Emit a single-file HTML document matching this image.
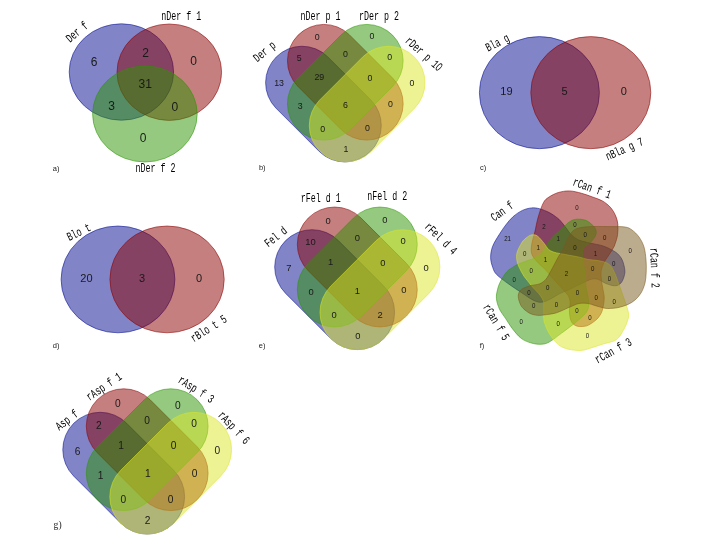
<!DOCTYPE html>
<html><head><meta charset="utf-8"><title>Venn diagrams</title>
<style>html,body{margin:0;padding:0;background:#fff}svg{display:block}</style></head>
<body>
<svg width="701" height="542" viewBox="0 0 701 542">
<rect width="701" height="542" fill="#fff"/>
<ellipse cx="121.4" cy="72" rx="52.2" ry="48.2" fill="#040C90" fill-opacity="0.5" stroke="#040C90" stroke-opacity="0.6" stroke-width="0.9"/>
<ellipse cx="169.3" cy="72.2" rx="52.3" ry="48.2" fill="#8B0000" fill-opacity="0.5" stroke="#8B0000" stroke-opacity="0.6" stroke-width="0.9"/>
<ellipse cx="144.9" cy="114" rx="52.3" ry="48" fill="#2A9400" fill-opacity="0.5" stroke="#2A9400" stroke-opacity="0.6" stroke-width="0.9"/>
<path d="M275.83,108.02 L319.53,151.72 A36.45,36.45 0 0 0 371.07,100.18 L327.37,56.48 A36.45,36.45 0 0 0 275.83,108.02 Z" fill="#040C90" fill-opacity="0.5" stroke="#040C90" stroke-opacity="0.6" stroke-width="0.9"/>
<path d="M297.68,86.17 L341.38,129.87 A36.45,36.45 0 0 0 392.92,78.33 L349.22,34.63 A36.45,36.45 0 0 0 297.68,86.17 Z" fill="#8B0000" fill-opacity="0.5" stroke="#8B0000" stroke-opacity="0.6" stroke-width="0.9"/>
<path d="M341.38,34.63 L297.68,78.33 A36.45,36.45 0 0 0 349.22,129.87 L392.92,86.17 A36.45,36.45 0 0 0 341.38,34.63 Z" fill="#2A9400" fill-opacity="0.5" stroke="#2A9400" stroke-opacity="0.6" stroke-width="0.9"/>
<path d="M363.23,56.48 L319.53,100.18 A36.45,36.45 0 0 0 371.07,151.72 L414.77,108.02 A36.45,36.45 0 0 0 363.23,56.48 Z" fill="#DCE628" fill-opacity="0.5" stroke="#DCE628" stroke-opacity="0.6" stroke-width="0.9"/>
<ellipse cx="539.4" cy="92.65" rx="60" ry="56.05" fill="#040C90" fill-opacity="0.5" stroke="#040C90" stroke-opacity="0.6" stroke-width="0.9"/>
<ellipse cx="590.8" cy="92.65" rx="60" ry="56.05" fill="#8B0000" fill-opacity="0.5" stroke="#8B0000" stroke-opacity="0.6" stroke-width="0.9"/>
<ellipse cx="118" cy="279.4" rx="56.9" ry="53.4" fill="#040C90" fill-opacity="0.5" stroke="#040C90" stroke-opacity="0.6" stroke-width="0.9"/>
<ellipse cx="167.05" cy="279.4" rx="57.15" ry="53.4" fill="#8B0000" fill-opacity="0.5" stroke="#8B0000" stroke-opacity="0.6" stroke-width="0.9"/>
<path d="M285.62,293.38 L330.92,338.68 A37.3,37.3 0 0 0 383.68,285.92 L338.38,240.62 A37.3,37.3 0 0 0 285.62,293.38 Z" fill="#040C90" fill-opacity="0.5" stroke="#040C90" stroke-opacity="0.6" stroke-width="0.9"/>
<path d="M308.27,270.73 L353.57,316.03 A37.3,37.3 0 0 0 406.33,263.27 L361.03,217.97 A37.3,37.3 0 0 0 308.27,270.73 Z" fill="#8B0000" fill-opacity="0.5" stroke="#8B0000" stroke-opacity="0.6" stroke-width="0.9"/>
<path d="M353.57,217.97 L308.27,263.27 A37.3,37.3 0 0 0 361.03,316.03 L406.33,270.73 A37.3,37.3 0 0 0 353.57,217.97 Z" fill="#2A9400" fill-opacity="0.5" stroke="#2A9400" stroke-opacity="0.6" stroke-width="0.9"/>
<path d="M376.22,240.62 L330.92,285.92 A37.3,37.3 0 0 0 383.68,338.68 L428.98,293.38 A37.3,37.3 0 0 0 376.22,240.62 Z" fill="#DCE628" fill-opacity="0.5" stroke="#DCE628" stroke-opacity="0.6" stroke-width="0.9"/>
<path d="M543.09,301.94 C540.76,302.45 539.28,302.39 537.05,301.75 C534.82,301.12 532.34,299.68 529.72,298.13 C527.10,296.59 524.84,294.87 521.33,292.51 C517.82,290.14 512.76,286.93 508.65,283.95 C504.55,280.96 499.34,277.32 496.70,274.59 C494.05,271.87 493.79,270.40 492.79,267.58 C491.78,264.77 490.68,261.19 490.64,257.68 C490.60,254.17 491.12,250.36 492.55,246.51 C493.97,242.66 496.97,238.21 499.20,234.59 C501.43,230.96 503.60,227.75 505.93,224.75 C508.27,221.74 510.45,218.95 513.20,216.56 C515.95,214.16 519.39,211.83 522.43,210.39 C525.48,208.96 528.65,208.21 531.50,207.93 C534.35,207.66 536.60,207.96 539.56,208.74 C542.52,209.51 546.36,211.10 549.25,212.58 C552.14,214.07 555.00,216.21 556.91,217.65 C558.83,219.08 559.13,219.34 560.74,221.18 C562.35,223.01 564.88,226.44 566.59,228.64 C568.31,230.85 569.08,232.56 571.03,234.43 C572.98,236.30 575.56,238.53 578.31,239.87 C581.07,241.21 584.54,241.71 587.56,242.47 C590.57,243.22 593.98,243.87 596.41,244.40 C598.85,244.93 600.30,245.11 602.17,245.67 C604.03,246.23 605.96,247.04 607.60,247.77 C609.24,248.51 610.60,249.31 612.01,250.08 C613.41,250.85 614.84,251.56 616.02,252.41 C617.19,253.26 618.19,254.26 619.05,255.20 C619.92,256.15 620.61,257.07 621.23,258.09 C621.85,259.12 622.34,260.21 622.78,261.33 C623.21,262.46 623.52,263.61 623.83,264.82 C624.14,266.02 624.46,267.27 624.64,268.57 C624.82,269.87 625.01,271.24 624.90,272.61 C624.78,273.98 624.33,275.53 623.96,276.81 C623.58,278.10 623.20,279.23 622.66,280.30 C622.12,281.37 621.58,282.38 620.71,283.23 C619.84,284.08 618.48,284.98 617.43,285.39 C616.37,285.81 615.45,285.77 614.38,285.73 C613.30,285.69 612.51,285.60 610.97,285.17 C609.43,284.75 606.72,283.85 605.15,283.19 C603.58,282.52 602.82,281.83 601.55,281.17 C600.27,280.51 598.82,279.61 597.51,279.24 C596.20,278.87 595.08,278.85 593.70,278.96 C592.32,279.08 591.77,278.92 589.23,279.94 C586.69,280.96 581.97,283.42 578.48,285.11 C574.98,286.80 571.37,288.70 568.28,290.10 C565.18,291.50 562.80,292.07 559.93,293.51 C557.06,294.95 553.85,297.33 551.05,298.74 C548.24,300.14 545.43,301.44 543.09,301.94 Z" fill="#040C90" fill-opacity="0.5" stroke="#040C90" stroke-opacity="0.6" stroke-width="0.9"/>
<path d="M532.83,256.18 C531.64,254.05 531.24,252.58 531.14,250.21 C531.04,247.83 531.61,244.96 532.22,241.92 C532.84,238.88 533.82,236.14 534.83,231.98 C535.83,227.83 536.79,221.90 538.23,217.01 C539.67,212.12 541.65,205.97 543.45,202.64 C545.24,199.31 546.56,198.70 549.03,197.03 C551.50,195.35 554.86,193.58 558.27,192.56 C561.69,191.54 565.61,190.80 569.49,190.92 C573.38,191.04 577.74,192.27 581.60,193.30 C585.46,194.32 589.17,195.78 592.66,197.06 C596.15,198.35 599.53,199.25 602.53,201.01 C605.52,202.77 608.44,205.13 610.63,207.61 C612.82,210.08 614.45,213.10 615.65,215.87 C616.85,218.64 617.51,221.06 617.83,224.24 C618.15,227.41 618.01,231.68 617.56,234.92 C617.12,238.17 615.91,241.45 615.15,243.71 C614.39,245.97 614.22,246.35 613.01,248.48 C611.81,250.62 609.42,254.14 607.90,256.50 C606.39,258.86 605.05,260.14 603.92,262.63 C602.79,265.12 601.52,268.32 601.14,271.43 C600.76,274.53 601.29,278.09 601.62,281.27 C601.96,284.45 602.74,287.98 603.16,290.50 C603.58,293.01 604.03,294.43 604.16,296.36 C604.29,298.29 604.12,300.30 603.94,302.06 C603.76,303.81 603.41,305.34 603.08,306.89 C602.75,308.44 602.45,310.00 601.96,311.36 C601.47,312.72 600.79,313.95 600.14,315.04 C599.49,316.14 598.81,317.05 598.06,317.94 C597.30,318.82 596.45,319.61 595.60,320.34 C594.74,321.08 593.85,321.71 592.92,322.36 C591.99,323.02 591.06,323.70 590.03,324.28 C589.00,324.86 587.93,325.49 586.73,325.85 C585.52,326.21 584.04,326.34 582.80,326.45 C581.55,326.56 580.41,326.63 579.26,326.51 C578.10,326.39 576.98,326.25 575.86,325.72 C574.74,325.20 573.37,324.22 572.55,323.36 C571.73,322.51 571.37,321.61 570.94,320.57 C570.52,319.53 570.26,318.73 570.00,317.10 C569.74,315.48 569.41,312.55 569.38,310.81 C569.34,309.08 569.65,308.12 569.79,306.68 C569.92,305.24 570.24,303.54 570.17,302.16 C570.09,300.78 569.82,299.70 569.34,298.41 C568.86,297.11 568.95,296.56 567.28,294.42 C565.62,292.28 561.95,288.45 559.34,285.57 C556.72,282.69 553.82,279.73 551.57,277.14 C549.32,274.55 548.06,272.40 545.84,270.03 C543.62,267.67 540.42,265.27 538.25,262.96 C536.09,260.65 534.02,258.30 532.83,256.18 Z" fill="#8B0000" fill-opacity="0.5" stroke="#8B0000" stroke-opacity="0.6" stroke-width="0.9"/>
<path d="M588.61,306.05 C588.35,308.49 587.84,309.92 586.56,311.91 C585.29,313.89 583.18,315.87 580.95,317.95 C578.71,320.04 576.37,321.87 573.15,324.40 C569.93,326.93 565.63,330.18 561.64,333.12 C557.66,336.05 552.66,340.14 549.26,342.00 C545.87,343.86 544.26,344.09 541.27,344.26 C538.28,344.43 534.67,344.01 531.32,343.03 C527.97,342.04 524.35,340.74 521.19,338.35 C518.04,335.95 514.97,331.95 512.38,328.65 C509.79,325.35 507.81,321.82 505.65,318.55 C503.50,315.28 501.00,312.35 499.46,309.03 C497.92,305.70 496.74,301.89 496.43,298.60 C496.12,295.32 496.89,292.23 497.60,289.32 C498.31,286.40 499.15,284.06 500.70,281.13 C502.24,278.20 504.56,274.23 506.86,271.73 C509.15,269.24 512.44,267.49 514.49,266.16 C516.54,264.84 516.92,264.72 519.17,263.77 C521.42,262.81 525.40,261.42 528.00,260.43 C530.59,259.45 532.42,259.21 534.77,257.88 C537.11,256.55 539.97,254.71 542.06,252.44 C544.16,250.17 545.63,246.76 547.34,244.26 C549.05,241.75 550.90,239.17 552.33,237.41 C553.77,235.65 554.63,234.85 555.93,233.68 C557.23,232.51 558.83,231.47 560.15,230.39 C561.46,229.30 562.66,228.29 563.82,227.17 C564.99,226.05 566.02,224.66 567.13,223.67 C568.25,222.69 569.42,221.89 570.52,221.25 C571.62,220.61 572.64,220.15 573.73,219.81 C574.81,219.47 575.93,219.28 577.04,219.18 C578.15,219.09 579.24,219.15 580.37,219.25 C581.50,219.35 582.65,219.49 583.79,219.78 C584.94,220.07 586.12,220.41 587.23,221.00 C588.34,221.60 589.48,222.58 590.46,223.36 C591.44,224.14 592.32,224.84 593.11,225.67 C593.90,226.50 594.67,227.29 595.19,228.35 C595.72,229.40 596.17,230.91 596.25,232.00 C596.34,233.09 596.04,233.92 595.70,234.90 C595.36,235.88 595.07,236.64 594.22,237.87 C593.37,239.11 591.71,241.20 590.60,242.32 C589.49,243.43 588.58,243.77 587.55,244.58 C586.52,245.39 585.18,246.24 584.41,247.18 C583.64,248.12 583.25,249.01 582.92,250.21 C582.59,251.41 582.26,251.70 582.43,254.37 C582.60,257.05 583.46,262.35 583.96,266.25 C584.46,270.15 585.09,274.32 585.43,277.77 C585.77,281.23 585.56,283.73 586.01,286.98 C586.45,290.24 587.66,294.11 588.10,297.29 C588.53,300.47 588.86,303.62 588.61,306.05 Z" fill="#2A9400" fill-opacity="0.5" stroke="#2A9400" stroke-opacity="0.6" stroke-width="0.9"/>
<path d="M606.47,262.83 C608.65,263.83 609.81,264.77 611.25,266.63 C612.70,268.49 613.88,271.16 615.11,273.99 C616.35,276.82 617.19,279.55 618.67,283.61 C620.15,287.68 622.34,293.43 623.99,298.37 C625.63,303.30 627.96,309.46 628.55,313.22 C629.14,316.98 628.36,318.10 627.50,320.93 C626.65,323.76 625.29,327.03 623.41,330.17 C621.53,333.32 619.62,337.49 616.22,339.80 C612.82,342.12 607.06,342.78 603.01,344.09 C598.96,345.40 595.35,346.62 591.91,347.66 C588.48,348.69 585.79,349.93 582.40,350.30 C579.00,350.66 574.96,350.40 571.54,349.85 C568.13,349.30 564.66,348.40 561.90,346.98 C559.14,345.56 557.23,343.80 554.99,341.33 C552.76,338.86 550.18,335.16 548.48,332.17 C546.77,329.18 545.56,325.81 544.75,323.37 C543.94,320.93 543.82,320.17 543.64,317.54 C543.46,314.91 543.75,310.39 543.68,307.57 C543.61,304.75 544.00,302.94 543.20,300.62 C542.40,298.31 540.63,295.93 538.87,293.69 C537.12,291.45 534.57,289.37 532.67,287.19 C530.76,285.01 528.88,282.40 527.46,280.61 C526.03,278.81 525.13,277.90 524.11,276.41 C523.09,274.93 522.17,273.24 521.35,271.72 C520.53,270.19 519.84,268.75 519.17,267.25 C518.51,265.74 517.79,264.17 517.36,262.69 C516.94,261.21 516.74,259.72 516.62,258.37 C516.51,257.02 516.51,255.83 516.66,254.60 C516.82,253.38 517.14,252.18 517.54,251.02 C517.94,249.85 518.52,248.75 519.08,247.61 C519.64,246.47 520.24,245.31 520.89,244.18 C521.55,243.05 522.18,241.87 523.03,240.85 C523.89,239.83 525.04,238.86 526.01,238.06 C526.98,237.25 527.86,236.56 528.84,236.02 C529.83,235.48 530.79,234.98 531.92,234.83 C533.06,234.68 534.61,234.80 535.66,235.12 C536.71,235.43 537.40,236.05 538.23,236.72 C539.05,237.40 539.59,238.03 540.61,239.19 C541.63,240.35 543.38,242.42 544.34,243.67 C545.30,244.92 545.61,245.69 546.38,246.71 C547.14,247.73 547.96,248.98 548.92,249.78 C549.89,250.59 550.90,251.04 552.18,251.56 C553.46,252.07 553.91,252.30 556.59,252.88 C559.26,253.46 564.44,254.34 568.23,255.06 C572.01,255.78 576.03,256.46 579.33,257.19 C582.63,257.93 584.88,258.90 588.02,259.47 C591.17,260.05 595.13,260.06 598.20,260.61 C601.28,261.17 604.30,261.82 606.47,262.83 Z" fill="#DCE628" fill-opacity="0.5" stroke="#DCE628" stroke-opacity="0.6" stroke-width="0.9"/>
<path d="M572.00,232.00 C573.60,230.18 574.83,229.33 577.00,228.50 C579.17,227.67 582.00,227.33 585.00,227.00 C588.00,226.67 590.83,226.57 595.00,226.50 C599.17,226.43 605.00,226.52 610.00,226.60 C615.00,226.68 621.33,226.43 625.00,227.00 C628.67,227.57 629.67,228.33 632.00,230.00 C634.33,231.67 637.00,234.17 639.00,237.00 C641.00,239.83 642.83,243.17 644.00,247.00 C645.17,250.83 645.63,255.83 646.00,260.00 C646.37,264.17 646.37,268.17 646.20,272.00 C646.03,275.83 645.87,279.50 645.00,283.00 C644.13,286.50 642.67,290.17 641.00,293.00 C639.33,295.83 637.17,298.10 635.00,300.00 C632.83,301.90 630.83,303.13 628.00,304.40 C625.17,305.67 621.17,306.92 618.00,307.60 C614.83,308.28 611.35,308.43 609.00,308.50 C606.65,308.57 606.25,308.50 603.90,308.00 C601.55,307.50 597.55,306.25 594.90,305.50 C592.25,304.75 590.65,303.83 588.00,303.50 C585.35,303.17 582.00,302.92 579.00,303.50 C576.00,304.08 573.00,305.75 570.00,307.00 C567.00,308.25 563.50,309.97 561.00,311.00 C558.50,312.03 557.00,312.65 555.00,313.20 C553.00,313.75 550.83,314.02 549.00,314.30 C547.17,314.58 545.58,314.72 544.00,314.90 C542.42,315.08 540.92,315.37 539.50,315.40 C538.08,315.43 536.73,315.28 535.50,315.10 C534.27,314.92 533.18,314.67 532.10,314.30 C531.02,313.93 529.98,313.45 529.00,312.90 C528.02,312.35 527.12,311.70 526.20,311.00 C525.28,310.30 524.35,309.57 523.50,308.70 C522.65,307.83 521.77,306.92 521.10,305.80 C520.43,304.68 519.93,303.22 519.50,302.00 C519.07,300.78 518.70,299.67 518.50,298.50 C518.30,297.33 518.12,296.20 518.30,295.00 C518.48,293.80 519.02,292.27 519.60,291.30 C520.18,290.33 520.93,289.82 521.80,289.20 C522.67,288.58 523.32,288.20 524.80,287.60 C526.28,287.00 529.00,286.05 530.70,285.60 C532.40,285.15 533.48,285.20 535.00,284.90 C536.52,284.60 538.38,284.37 539.80,283.80 C541.22,283.23 542.30,282.50 543.50,281.50 C544.70,280.50 545.42,280.22 547.00,277.80 C548.58,275.38 551.10,270.50 553.00,267.00 C554.90,263.50 556.70,259.80 558.40,256.80 C560.10,253.80 561.70,251.90 563.20,249.00 C564.70,246.10 565.93,242.23 567.40,239.40 C568.87,236.57 570.40,233.82 572.00,232.00 Z" fill="#7A5A1E" fill-opacity="0.5" stroke="#7A5A1E" stroke-opacity="0.6" stroke-width="0.9"/>
<path d="M73.75,476.15 L120.75,523.15 A37.4,37.4 0 0 0 173.65,470.25 L126.65,423.25 A37.4,37.4 0 0 0 73.75,476.15 Z" fill="#040C90" fill-opacity="0.5" stroke="#040C90" stroke-opacity="0.6" stroke-width="0.9"/>
<path d="M97.25,452.65 L144.25,499.65 A37.4,37.4 0 0 0 197.15,446.75 L150.15,399.75 A37.4,37.4 0 0 0 97.25,452.65 Z" fill="#8B0000" fill-opacity="0.5" stroke="#8B0000" stroke-opacity="0.6" stroke-width="0.9"/>
<path d="M144.25,399.75 L97.25,446.75 A37.4,37.4 0 0 0 150.15,499.65 L197.15,452.65 A37.4,37.4 0 0 0 144.25,399.75 Z" fill="#2A9400" fill-opacity="0.5" stroke="#2A9400" stroke-opacity="0.6" stroke-width="0.9"/>
<path d="M167.75,423.25 L120.75,470.25 A37.4,37.4 0 0 0 173.65,523.15 L220.65,476.15 A37.4,37.4 0 0 0 167.75,423.25 Z" fill="#DCE628" fill-opacity="0.5" stroke="#DCE628" stroke-opacity="0.6" stroke-width="0.9"/>
<g opacity="0.999">
<text x="94" y="65.70" font-size="12" text-anchor="middle" font-family='"Liberation Sans", sans-serif' fill="#1a1a1a">6</text>
<text x="145.6" y="56.60" font-size="12" text-anchor="middle" font-family='"Liberation Sans", sans-serif' fill="#1a1a1a">2</text>
<text x="145.3" y="87.90" font-size="12" text-anchor="middle" font-family='"Liberation Sans", sans-serif' fill="#1a1a1a">31</text>
<text x="193.7" y="64.90" font-size="12" text-anchor="middle" font-family='"Liberation Sans", sans-serif' fill="#1a1a1a">0</text>
<text x="111.5" y="109.70" font-size="12" text-anchor="middle" font-family='"Liberation Sans", sans-serif' fill="#1a1a1a">3</text>
<text x="174.8" y="111.30" font-size="12" text-anchor="middle" font-family='"Liberation Sans", sans-serif' fill="#1a1a1a">0</text>
<text x="143.1" y="141.50" font-size="12" text-anchor="middle" font-family='"Liberation Sans", sans-serif' fill="#1a1a1a">0</text>
<text transform="translate(77,32) rotate(-40)" x="0" y="3.9" font-size="12.2" text-anchor="middle" textLength="25.0" lengthAdjust="spacingAndGlyphs" font-family='"Liberation Mono", "IPAGothic", monospace' fill="#000">Der f</text>
<text transform="translate(181.2,15.6) rotate(0)" x="0" y="3.9" font-size="12.2" text-anchor="middle" textLength="40.0" lengthAdjust="spacingAndGlyphs" font-family='"Liberation Mono", "IPAGothic", monospace' fill="#000">nDer f 1</text>
<text transform="translate(155.5,167.8) rotate(0)" x="0" y="3.9" font-size="12.2" text-anchor="middle" textLength="40.0" lengthAdjust="spacingAndGlyphs" font-family='"Liberation Mono", "IPAGothic", monospace' fill="#000">nDer f 2</text>
<text x="52.8" y="170.7" font-size="7.5" font-family='"Liberation Sans", sans-serif' fill="#222">a)</text>
<text x="317.1" y="40.15" font-size="8.8" text-anchor="middle" font-family='"Liberation Sans", sans-serif' fill="#1a1a1a">0</text>
<text x="299.3" y="61.25" font-size="8.8" text-anchor="middle" font-family='"Liberation Sans", sans-serif' fill="#1a1a1a">5</text>
<text x="345.4" y="56.65" font-size="8.8" text-anchor="middle" font-family='"Liberation Sans", sans-serif' fill="#1a1a1a">0</text>
<text x="319.3" y="80.45" font-size="8.8" text-anchor="middle" font-family='"Liberation Sans", sans-serif' fill="#1a1a1a">29</text>
<text x="279.1" y="86.45" font-size="8.8" text-anchor="middle" font-family='"Liberation Sans", sans-serif' fill="#1a1a1a">13</text>
<text x="372" y="39.45" font-size="8.8" text-anchor="middle" font-family='"Liberation Sans", sans-serif' fill="#1a1a1a">0</text>
<text x="389.7" y="59.55" font-size="8.8" text-anchor="middle" font-family='"Liberation Sans", sans-serif' fill="#1a1a1a">0</text>
<text x="370" y="80.95" font-size="8.8" text-anchor="middle" font-family='"Liberation Sans", sans-serif' fill="#1a1a1a">0</text>
<text x="411.9" y="86.05" font-size="8.8" text-anchor="middle" font-family='"Liberation Sans", sans-serif' fill="#1a1a1a">0</text>
<text x="300.2" y="108.65" font-size="8.8" text-anchor="middle" font-family='"Liberation Sans", sans-serif' fill="#1a1a1a">3</text>
<text x="345.4" y="107.85" font-size="8.8" text-anchor="middle" font-family='"Liberation Sans", sans-serif' fill="#1a1a1a">6</text>
<text x="322.8" y="131.85" font-size="8.8" text-anchor="middle" font-family='"Liberation Sans", sans-serif' fill="#1a1a1a">0</text>
<text x="345.9" y="152.35" font-size="8.8" text-anchor="middle" font-family='"Liberation Sans", sans-serif' fill="#1a1a1a">1</text>
<text x="390.5" y="107.35" font-size="8.8" text-anchor="middle" font-family='"Liberation Sans", sans-serif' fill="#1a1a1a">0</text>
<text x="367.4" y="131.45" font-size="8.8" text-anchor="middle" font-family='"Liberation Sans", sans-serif' fill="#1a1a1a">0</text>
<text transform="translate(264.5,51.5) rotate(-39.5)" x="0" y="3.9" font-size="12.2" text-anchor="middle" textLength="25.0" lengthAdjust="spacingAndGlyphs" font-family='"Liberation Mono", "IPAGothic", monospace' fill="#000">Der p</text>
<text transform="translate(320.4,16) rotate(0)" x="0" y="3.9" font-size="12.2" text-anchor="middle" textLength="40.0" lengthAdjust="spacingAndGlyphs" font-family='"Liberation Mono", "IPAGothic", monospace' fill="#000">nDer p 1</text>
<text transform="translate(378.9,16) rotate(0)" x="0" y="3.9" font-size="12.2" text-anchor="middle" textLength="40.0" lengthAdjust="spacingAndGlyphs" font-family='"Liberation Mono", "IPAGothic", monospace' fill="#000">rDer p 2</text>
<text transform="translate(423.9,53.8) rotate(42)" x="0" y="3.9" font-size="12.2" text-anchor="middle" textLength="45.0" lengthAdjust="spacingAndGlyphs" font-family='"Liberation Mono", "IPAGothic", monospace' fill="#000">rDer p 1<tspan font-family="Liberation Sans, sans-serif">0</tspan></text>
<text x="258.9" y="169.7" font-size="7.5" font-family='"Liberation Sans", sans-serif' fill="#222">b)</text>
<text x="506.4" y="95.44" font-size="11" text-anchor="middle" font-family='"Liberation Sans", sans-serif' fill="#1a1a1a">19</text>
<text x="564.5" y="95.44" font-size="11" text-anchor="middle" font-family='"Liberation Sans", sans-serif' fill="#1a1a1a">5</text>
<text x="623.9" y="95.44" font-size="11" text-anchor="middle" font-family='"Liberation Sans", sans-serif' fill="#1a1a1a">0</text>
<text transform="translate(497.4,42.7) rotate(-26.6)" x="0" y="3.9" font-size="12.2" text-anchor="middle" textLength="25.0" lengthAdjust="spacingAndGlyphs" font-family='"Liberation Mono", "IPAGothic", monospace' fill="#000">Bla g</text>
<text transform="translate(624.4,149) rotate(-23.7)" x="0" y="3.9" font-size="12.2" text-anchor="middle" textLength="40.0" lengthAdjust="spacingAndGlyphs" font-family='"Liberation Mono", "IPAGothic", monospace' fill="#000">nBla g 7</text>
<text x="479.9" y="170.4" font-size="7.5" font-family='"Liberation Sans", sans-serif' fill="#222">c)</text>
<text x="86.4" y="281.94" font-size="11" text-anchor="middle" font-family='"Liberation Sans", sans-serif' fill="#1a1a1a">20</text>
<text x="142" y="281.94" font-size="11" text-anchor="middle" font-family='"Liberation Sans", sans-serif' fill="#1a1a1a">3</text>
<text x="199" y="281.94" font-size="11" text-anchor="middle" font-family='"Liberation Sans", sans-serif' fill="#1a1a1a">0</text>
<text transform="translate(78.7,232.1) rotate(-25.8)" x="0" y="3.9" font-size="12.2" text-anchor="middle" textLength="25.0" lengthAdjust="spacingAndGlyphs" font-family='"Liberation Mono", "IPAGothic", monospace' fill="#000">Blo t</text>
<text transform="translate(208.6,328.5) rotate(-32)" x="0" y="3.9" font-size="12.2" text-anchor="middle" textLength="40.0" lengthAdjust="spacingAndGlyphs" font-family='"Liberation Mono", "IPAGothic", monospace' fill="#000">rBlo t 5</text>
<text x="52.8" y="347.9" font-size="7.5" font-family='"Liberation Sans", sans-serif' fill="#222">d)</text>
<text x="328" y="223.77" font-size="9.4" text-anchor="middle" font-family='"Liberation Sans", sans-serif' fill="#1a1a1a">0</text>
<text x="310.5" y="245.37" font-size="9.4" text-anchor="middle" font-family='"Liberation Sans", sans-serif' fill="#1a1a1a">10</text>
<text x="357.3" y="240.57" font-size="9.4" text-anchor="middle" font-family='"Liberation Sans", sans-serif' fill="#1a1a1a">0</text>
<text x="330.7" y="265.47" font-size="9.4" text-anchor="middle" font-family='"Liberation Sans", sans-serif' fill="#1a1a1a">1</text>
<text x="288.8" y="271.07" font-size="9.4" text-anchor="middle" font-family='"Liberation Sans", sans-serif' fill="#1a1a1a">7</text>
<text x="384.9" y="223.17" font-size="9.4" text-anchor="middle" font-family='"Liberation Sans", sans-serif' fill="#1a1a1a">0</text>
<text x="403" y="244.07" font-size="9.4" text-anchor="middle" font-family='"Liberation Sans", sans-serif' fill="#1a1a1a">0</text>
<text x="382.8" y="266.27" font-size="9.4" text-anchor="middle" font-family='"Liberation Sans", sans-serif' fill="#1a1a1a">0</text>
<text x="426" y="271.07" font-size="9.4" text-anchor="middle" font-family='"Liberation Sans", sans-serif' fill="#1a1a1a">0</text>
<text x="311" y="294.77" font-size="9.4" text-anchor="middle" font-family='"Liberation Sans", sans-serif' fill="#1a1a1a">0</text>
<text x="357.3" y="293.77" font-size="9.4" text-anchor="middle" font-family='"Liberation Sans", sans-serif' fill="#1a1a1a">1</text>
<text x="334" y="318.27" font-size="9.4" text-anchor="middle" font-family='"Liberation Sans", sans-serif' fill="#1a1a1a">0</text>
<text x="357.8" y="339.07" font-size="9.4" text-anchor="middle" font-family='"Liberation Sans", sans-serif' fill="#1a1a1a">0</text>
<text x="403.9" y="292.67" font-size="9.4" text-anchor="middle" font-family='"Liberation Sans", sans-serif' fill="#1a1a1a">0</text>
<text x="380.2" y="318.27" font-size="9.4" text-anchor="middle" font-family='"Liberation Sans", sans-serif' fill="#1a1a1a">2</text>
<text transform="translate(275.8,236.8) rotate(-38)" x="0" y="3.9" font-size="12.2" text-anchor="middle" textLength="25.0" lengthAdjust="spacingAndGlyphs" font-family='"Liberation Mono", "IPAGothic", monospace' fill="#000">Fel d</text>
<text transform="translate(320.8,198.5) rotate(0)" x="0" y="3.9" font-size="12.2" text-anchor="middle" textLength="40.0" lengthAdjust="spacingAndGlyphs" font-family='"Liberation Mono", "IPAGothic", monospace' fill="#000">rFel d 1</text>
<text transform="translate(387.2,196.4) rotate(0)" x="0" y="3.9" font-size="12.2" text-anchor="middle" textLength="40.0" lengthAdjust="spacingAndGlyphs" font-family='"Liberation Mono", "IPAGothic", monospace' fill="#000">nFel d 2</text>
<text transform="translate(441,238.5) rotate(44)" x="0" y="3.9" font-size="12.2" text-anchor="middle" textLength="40.0" lengthAdjust="spacingAndGlyphs" font-family='"Liberation Mono", "IPAGothic", monospace' fill="#000">rFel d 4</text>
<text x="258.8" y="348.1" font-size="7.5" font-family='"Liberation Sans", sans-serif' fill="#222">e)</text>
<text x="576.9" y="209.61" font-size="7.3" text-anchor="middle" textLength="3.41" lengthAdjust="spacingAndGlyphs" font-family='"Liberation Sans", sans-serif' fill="#1a1a1a">0</text>
<text x="544" y="229.31" font-size="7.3" text-anchor="middle" textLength="3.41" lengthAdjust="spacingAndGlyphs" font-family='"Liberation Sans", sans-serif' fill="#1a1a1a">2</text>
<text x="507.6" y="240.91" font-size="7.3" text-anchor="middle" textLength="6.82" lengthAdjust="spacingAndGlyphs" font-family='"Liberation Sans", sans-serif' fill="#1a1a1a">21</text>
<text x="575" y="227.41" font-size="7.3" text-anchor="middle" textLength="3.41" lengthAdjust="spacingAndGlyphs" font-family='"Liberation Sans", sans-serif' fill="#1a1a1a">0</text>
<text x="558.1" y="240.91" font-size="7.3" text-anchor="middle" textLength="3.41" lengthAdjust="spacingAndGlyphs" font-family='"Liberation Sans", sans-serif' fill="#1a1a1a">1</text>
<text x="585.3" y="236.81" font-size="7.3" text-anchor="middle" textLength="3.41" lengthAdjust="spacingAndGlyphs" font-family='"Liberation Sans", sans-serif' fill="#1a1a1a">0</text>
<text x="604.8" y="240.01" font-size="7.3" text-anchor="middle" textLength="3.41" lengthAdjust="spacingAndGlyphs" font-family='"Liberation Sans", sans-serif' fill="#1a1a1a">0</text>
<text x="630.2" y="252.81" font-size="7.3" text-anchor="middle" textLength="3.41" lengthAdjust="spacingAndGlyphs" font-family='"Liberation Sans", sans-serif' fill="#1a1a1a">0</text>
<text x="524.8" y="256.01" font-size="7.3" text-anchor="middle" textLength="3.41" lengthAdjust="spacingAndGlyphs" font-family='"Liberation Sans", sans-serif' fill="#1a1a1a">0</text>
<text x="538.3" y="250.31" font-size="7.3" text-anchor="middle" textLength="3.41" lengthAdjust="spacingAndGlyphs" font-family='"Liberation Sans", sans-serif' fill="#1a1a1a">1</text>
<text x="575" y="250.31" font-size="7.3" text-anchor="middle" textLength="3.41" lengthAdjust="spacingAndGlyphs" font-family='"Liberation Sans", sans-serif' fill="#1a1a1a">0</text>
<text x="595.4" y="255.61" font-size="7.3" text-anchor="middle" textLength="3.41" lengthAdjust="spacingAndGlyphs" font-family='"Liberation Sans", sans-serif' fill="#1a1a1a">1</text>
<text x="545.5" y="262.21" font-size="7.3" text-anchor="middle" textLength="3.41" lengthAdjust="spacingAndGlyphs" font-family='"Liberation Sans", sans-serif' fill="#1a1a1a">1</text>
<text x="613.6" y="266.01" font-size="7.3" text-anchor="middle" textLength="3.41" lengthAdjust="spacingAndGlyphs" font-family='"Liberation Sans", sans-serif' fill="#1a1a1a">0</text>
<text x="592.6" y="271.31" font-size="7.3" text-anchor="middle" textLength="3.41" lengthAdjust="spacingAndGlyphs" font-family='"Liberation Sans", sans-serif' fill="#1a1a1a">0</text>
<text x="531.1" y="272.91" font-size="7.3" text-anchor="middle" textLength="3.41" lengthAdjust="spacingAndGlyphs" font-family='"Liberation Sans", sans-serif' fill="#1a1a1a">0</text>
<text x="566.5" y="276.31" font-size="7.3" text-anchor="middle" textLength="3.41" lengthAdjust="spacingAndGlyphs" font-family='"Liberation Sans", sans-serif' fill="#1a1a1a">2</text>
<text x="514.2" y="281.71" font-size="7.3" text-anchor="middle" textLength="3.41" lengthAdjust="spacingAndGlyphs" font-family='"Liberation Sans", sans-serif' fill="#1a1a1a">0</text>
<text x="609.5" y="280.71" font-size="7.3" text-anchor="middle" textLength="3.41" lengthAdjust="spacingAndGlyphs" font-family='"Liberation Sans", sans-serif' fill="#1a1a1a">0</text>
<text x="547.7" y="289.51" font-size="7.3" text-anchor="middle" textLength="3.41" lengthAdjust="spacingAndGlyphs" font-family='"Liberation Sans", sans-serif' fill="#1a1a1a">0</text>
<text x="528.9" y="295.21" font-size="7.3" text-anchor="middle" textLength="3.41" lengthAdjust="spacingAndGlyphs" font-family='"Liberation Sans", sans-serif' fill="#1a1a1a">0</text>
<text x="577.5" y="295.21" font-size="7.3" text-anchor="middle" textLength="3.41" lengthAdjust="spacingAndGlyphs" font-family='"Liberation Sans", sans-serif' fill="#1a1a1a">0</text>
<text x="596.3" y="299.91" font-size="7.3" text-anchor="middle" textLength="3.41" lengthAdjust="spacingAndGlyphs" font-family='"Liberation Sans", sans-serif' fill="#1a1a1a">0</text>
<text x="614.2" y="304.31" font-size="7.3" text-anchor="middle" textLength="3.41" lengthAdjust="spacingAndGlyphs" font-family='"Liberation Sans", sans-serif' fill="#1a1a1a">0</text>
<text x="533.6" y="308.31" font-size="7.3" text-anchor="middle" textLength="3.41" lengthAdjust="spacingAndGlyphs" font-family='"Liberation Sans", sans-serif' fill="#1a1a1a">0</text>
<text x="556.5" y="307.41" font-size="7.3" text-anchor="middle" textLength="3.41" lengthAdjust="spacingAndGlyphs" font-family='"Liberation Sans", sans-serif' fill="#1a1a1a">0</text>
<text x="576.9" y="313.01" font-size="7.3" text-anchor="middle" textLength="3.41" lengthAdjust="spacingAndGlyphs" font-family='"Liberation Sans", sans-serif' fill="#1a1a1a">0</text>
<text x="590" y="320.21" font-size="7.3" text-anchor="middle" textLength="3.41" lengthAdjust="spacingAndGlyphs" font-family='"Liberation Sans", sans-serif' fill="#1a1a1a">0</text>
<text x="521.1" y="324.01" font-size="7.3" text-anchor="middle" textLength="3.41" lengthAdjust="spacingAndGlyphs" font-family='"Liberation Sans", sans-serif' fill="#1a1a1a">0</text>
<text x="558.1" y="325.61" font-size="7.3" text-anchor="middle" textLength="3.41" lengthAdjust="spacingAndGlyphs" font-family='"Liberation Sans", sans-serif' fill="#1a1a1a">0</text>
<text x="587.5" y="337.51" font-size="7.3" text-anchor="middle" textLength="3.41" lengthAdjust="spacingAndGlyphs" font-family='"Liberation Sans", sans-serif' fill="#1a1a1a">0</text>
<text transform="translate(502.1,211.3) rotate(-36)" x="0" y="3.9" font-size="12.2" text-anchor="middle" textLength="25.0" lengthAdjust="spacingAndGlyphs" font-family='"Liberation Mono", "IPAGothic", monospace' fill="#000">Can f</text>
<text transform="translate(592.1,188.2) rotate(20)" x="0" y="3.9" font-size="12.2" text-anchor="middle" textLength="40.0" lengthAdjust="spacingAndGlyphs" font-family='"Liberation Mono", "IPAGothic", monospace' fill="#000">rCan f 1</text>
<text transform="translate(654.8,267.8) rotate(88)" x="0" y="3.9" font-size="12.2" text-anchor="middle" textLength="40.0" lengthAdjust="spacingAndGlyphs" font-family='"Liberation Mono", "IPAGothic", monospace' fill="#000">rCan f 2</text>
<text transform="translate(613.2,350.6) rotate(-29)" x="0" y="3.9" font-size="12.2" text-anchor="middle" textLength="40.0" lengthAdjust="spacingAndGlyphs" font-family='"Liberation Mono", "IPAGothic", monospace' fill="#000">rCan f 3</text>
<text transform="translate(496.4,322.2) rotate(59)" x="0" y="3.9" font-size="12.2" text-anchor="middle" textLength="40.0" lengthAdjust="spacingAndGlyphs" font-family='"Liberation Mono", "IPAGothic", monospace' fill="#000">rCan f 5</text>
<text x="479.7" y="348" font-size="7.5" font-family='"Liberation Sans", sans-serif' fill="#222">f)</text>
<text x="117.8" y="406.95" font-size="10.2" text-anchor="middle" font-family='"Liberation Sans", sans-serif' fill="#1a1a1a">0</text>
<text x="98.9" y="428.85" font-size="10.2" text-anchor="middle" font-family='"Liberation Sans", sans-serif' fill="#1a1a1a">2</text>
<text x="147.2" y="423.55" font-size="10.2" text-anchor="middle" font-family='"Liberation Sans", sans-serif' fill="#1a1a1a">0</text>
<text x="121.2" y="448.85" font-size="10.2" text-anchor="middle" font-family='"Liberation Sans", sans-serif' fill="#1a1a1a">1</text>
<text x="77.5" y="455.15" font-size="10.2" text-anchor="middle" font-family='"Liberation Sans", sans-serif' fill="#1a1a1a">6</text>
<text x="177.9" y="408.95" font-size="10.2" text-anchor="middle" font-family='"Liberation Sans", sans-serif' fill="#1a1a1a">0</text>
<text x="194.2" y="427.15" font-size="10.2" text-anchor="middle" font-family='"Liberation Sans", sans-serif' fill="#1a1a1a">0</text>
<text x="173.7" y="449.15" font-size="10.2" text-anchor="middle" font-family='"Liberation Sans", sans-serif' fill="#1a1a1a">0</text>
<text x="217.3" y="453.95" font-size="10.2" text-anchor="middle" font-family='"Liberation Sans", sans-serif' fill="#1a1a1a">0</text>
<text x="100.7" y="478.65" font-size="10.2" text-anchor="middle" font-family='"Liberation Sans", sans-serif' fill="#1a1a1a">1</text>
<text x="147.8" y="477.25" font-size="10.2" text-anchor="middle" font-family='"Liberation Sans", sans-serif' fill="#1a1a1a">1</text>
<text x="123.4" y="502.85" font-size="10.2" text-anchor="middle" font-family='"Liberation Sans", sans-serif' fill="#1a1a1a">0</text>
<text x="147.5" y="524.25" font-size="10.2" text-anchor="middle" font-family='"Liberation Sans", sans-serif' fill="#1a1a1a">2</text>
<text x="194.7" y="476.65" font-size="10.2" text-anchor="middle" font-family='"Liberation Sans", sans-serif' fill="#1a1a1a">0</text>
<text x="170.6" y="502.65" font-size="10.2" text-anchor="middle" font-family='"Liberation Sans", sans-serif' fill="#1a1a1a">0</text>
<text transform="translate(66.8,420) rotate(-37)" x="0" y="3.9" font-size="12.2" text-anchor="middle" textLength="25.0" lengthAdjust="spacingAndGlyphs" font-family='"Liberation Mono", "IPAGothic", monospace' fill="#000">Asp f</text>
<text transform="translate(104,386.5) rotate(-34)" x="0" y="3.9" font-size="12.2" text-anchor="middle" textLength="40.0" lengthAdjust="spacingAndGlyphs" font-family='"Liberation Mono", "IPAGothic", monospace' fill="#000">rAsp f 1</text>
<text transform="translate(196.3,389.5) rotate(32.4)" x="0" y="3.9" font-size="12.2" text-anchor="middle" textLength="40.0" lengthAdjust="spacingAndGlyphs" font-family='"Liberation Mono", "IPAGothic", monospace' fill="#000">rAsp f 3</text>
<text transform="translate(234,427.6) rotate(46.6)" x="0" y="3.9" font-size="12.2" text-anchor="middle" textLength="40.0" lengthAdjust="spacingAndGlyphs" font-family='"Liberation Mono", "IPAGothic", monospace' fill="#000">rAsp f 6</text>
<text x="53.6" y="527.6" font-size="9.6" font-family='"Liberation Serif", serif' fill="#222">g)</text>
</g>
</svg>
</body></html>
